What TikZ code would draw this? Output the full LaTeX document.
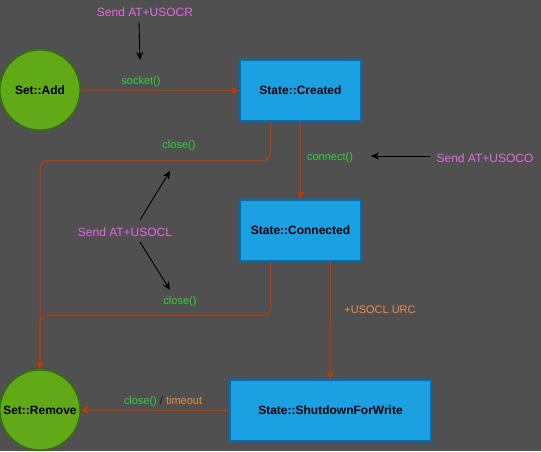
\documentclass[tikz,border=0pt]{standalone}
\usepackage{fontspec}
\setmainfont{Liberation Sans}
\usetikzlibrary{arrows.meta}
\definecolor{bg}{RGB}{80,80,80}
\definecolor{stfill}{RGB}{27,161,226}
\definecolor{ststroke}{RGB}{0,110,175}
\definecolor{cfill}{RGB}{96,169,23}
\definecolor{cstroke}{RGB}{45,118,0}
\definecolor{edgec}{RGB}{200,56,0}
\definecolor{lblgreen}{RGB}{45,210,55}
\definecolor{lblpink}{RGB}{235,100,235}
\definecolor{lblorange}{RGB}{235,145,55}
\definecolor{sepc}{RGB}{25,25,25}
\tikzset{
  statebox/.style={draw=ststroke, line width=1.2pt, fill=stfill, minimum width=121pt, minimum height=61pt, inner sep=0pt, font=\fontsize{12}{14}\selectfont\bfseries, text=black},
  setcirc/.style={circle, draw=cstroke, line width=1.2pt, fill=cfill, minimum size=80pt, inner sep=0pt, font=\fontsize{12}{14}\selectfont\bfseries, text=black},
  edge/.style={draw=edgec, line width=1pt, -{Stealth[length=8pt,width=7pt,inset=2pt]}},
  cmdarrow/.style={draw=black, line width=0.9pt, -{Stealth[length=8pt,width=7pt,inset=2.5pt]}},
  glabel/.style={text=lblgreen, font=\fontsize{11}{13}\selectfont, inner sep=1pt},
  olabel/.style={text=lblorange, font=\fontsize{11}{13}\selectfont, inner sep=1pt},
  plabel/.style={text=lblpink, font=\fontsize{12}{14}\selectfont, inner sep=1pt},
}
\begin{document}
\begin{tikzpicture}[x=1pt,y=-1pt]
\fill[bg] (0,0) rectangle (541,451);
\useasboundingbox (0,0) rectangle (541,451);

\node[setcirc] (add) at (40,90) {Set::Add};
\node[setcirc] (remove) at (40,410) {Set::Remove};
\node[statebox] (created) at (300.5,90.5) {State::Created};
\node[statebox] (connected) at (300.5,230.5) {State::Connected};
\node[statebox, minimum width=201pt] (shut) at (330.5,410.5) {State::ShutdownForWrite};

% edges
\draw[edge] (add.east) -- (created.west);
\draw[edge, rounded corners=8pt] ([xshift=-30pt]created.south) -- ++(0,39) -| (remove.north);
\draw[edge] (created.south) -- (connected.north);
\draw[edge, rounded corners=8pt] ([xshift=-30pt]connected.south) -- ++(0,54) -| (remove.north);
\draw[edge] ([xshift=30pt]connected.south) -- ([xshift=-0.5pt]shut.north);
\draw[edge] (shut.west) -- (remove.east);

% edge labels
\node[glabel] (lsocket) at (141,81.5) {socket()};
\node[glabel] (lclose1) at (179,145.5) {close()};
\node[glabel] (lconnect) at (330,158) {connect()};
\node[glabel] (lclose2) at (180,301.5) {close()};
\node[olabel] (lurc) at (380,309.5) {+USOCL URC};
\node[font=\fontsize{11}{13}\selectfont, inner sep=1pt] (lct) at (163,401.5) {\textcolor{lblgreen}{close()} \textcolor{sepc}{/} \textcolor{lblorange}{timeout}};

% commands
\node[plabel] (usocr) at (145,12) {Send AT+USOCR};
\node[plabel] (usoco) at (485,158) {Send AT+USOCO};
\node[plabel] (usocl) at (125,232) {Send AT+USOCL};

\coordinate (t1) at (140,60);
\coordinate (s2) at (430,156);
\coordinate (t2) at (371,156);
\coordinate (s3a) at (140,220);
\coordinate (t3a) at (170,171);
\coordinate (s3b) at (140,242);
\coordinate (t3b) at (170,290);
\coordinate (s1) at (139,22);

\draw[cmdarrow] (s1) -- (t1);
\draw[cmdarrow] (s2) -- (t2);
\draw[cmdarrow] (s3a) -- (t3a);
\draw[cmdarrow] (s3b) -- (t3b);
\end{tikzpicture}
\end{document}
